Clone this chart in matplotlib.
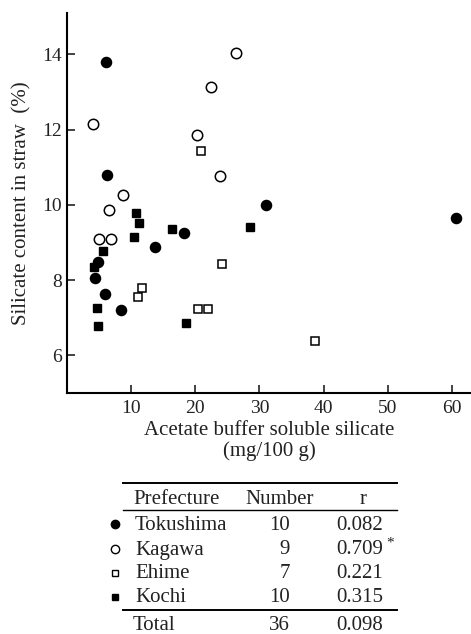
import matplotlib.pyplot as plt
from matplotlib.lines import Line2D

plt.rcParams['font.family'] = ['Liberation Serif', 'DejaVu Serif']

# data: x = acetate buffer soluble silicate, y = silicate in straw
toku_x = [6.1, 6.25, 18.3, 13.7, 4.8, 4.4, 6.0, 8.4, 31.0, 60.6]
toku_y = [13.8, 10.8, 9.25, 8.89, 8.49, 8.06, 7.62, 7.2, 10.0, 9.66]
kaga_x = [4.1, 6.6, 8.7, 5.05, 6.9, 20.2, 22.5, 23.9, 26.4]
kaga_y = [12.16, 9.87, 10.27, 9.09, 9.09, 11.87, 13.14, 10.76, 14.04]
ehime_x = [20.9, 24.1, 11.7, 11.0, 20.5, 22.0, 38.6]
ehime_y = [11.44, 8.44, 7.8, 7.55, 7.23, 7.23, 6.37]
kochi_x = [10.8, 11.2, 10.4, 16.3, 5.6, 4.2, 4.7, 4.8, 18.6, 28.6]
kochi_y = [9.78, 9.53, 9.15, 9.36, 8.78, 8.35, 7.27, 6.78, 6.87, 9.42]

prefectures = ['Tokushima', 'Kagawa', 'Ehime', 'Kochi']
numbers = ['10', '9', '7', '10']
r_values = ['0.082', '0.709', '0.221', '0.315']
r_star = ['', '*', '', '']
total_n = '36'
total_r = '0.098'

W, H = 471, 634
fig = plt.figure(figsize=(W / 100, H / 100), dpi=100)

def fx(px):
    return px / W

def fy(py):
    return 1 - py / H

ax = fig.add_axes([fx(67), fy(393), fx(471) - fx(67), fy(13) - fy(393)])

ax.plot(toku_x, toku_y, 'o', color='black', ms=7.3, ls='none')
ax.plot(kaga_x, kaga_y, 'o', mfc='white', mec='black', mew=1.1, ms=7.5, ls='none')
ax.plot(ehime_x, ehime_y, 's', mfc='white', mec='black', mew=1.1, ms=5.5, ls='none')
ax.plot(kochi_x, kochi_y, 's', color='black', ms=5.5, ls='none')

ax.set_xlim(0, 63)
ax.set_ylim(5, 15.1)
ax.set_xticks([10, 20, 30, 40, 50, 60])
ax.set_yticks([6, 8, 10, 12, 14])
ax.tick_params(direction='in', length=6, width=1.2, labelsize=14, colors='#222222')
ax.tick_params(axis='x', pad=5)
for s in ['top', 'right']:
    ax.spines[s].set_visible(False)
for s in ['left', 'bottom']:
    ax.spines[s].set_linewidth(1.5)

ax.set_ylabel('Silicate content in straw  (%)', fontsize=15, color='#222222', labelpad=8)
ax.set_xlabel('Acetate buffer soluble silicate\n(mg/100 g)', fontsize=15,
              color='#222222', labelpad=3, linespacing=1.05)

# table under the plot
def hline(py, x0, x1, lw):
    fig.add_artist(Line2D([fx(x0), fx(x1)], [fy(py), fy(py)], color='black',
                          lw=lw, transform=fig.transFigure))

tk = dict(fontsize=15, color='#222222', va='center')
hline(483, 123, 397, 1.4)
hline(510, 123, 397, 1.0)
hline(610, 123, 397, 1.4)

fig.text(fx(133), fy(499), 'Prefecture', ha='left', **tk)
fig.text(fx(280), fy(499), 'Number', ha='center', **tk)
fig.text(fx(363), fy(499), 'r', ha='center', **tk)

row_y = [525, 550, 574, 598]
marker_style = [dict(marker='o', color='black', ms=6),
                dict(marker='o', mfc='white', mec='black', mew=1, ms=6),
                dict(marker='s', mfc='white', mec='black', mew=1, ms=5),
                dict(marker='s', color='black', ms=5)]
for i, name in enumerate(prefectures):
    y = row_y[i]
    fig.add_artist(Line2D([fx(115)], [fy(y - 1)], ls='none', transform=fig.transFigure,
                          **marker_style[i]))
    fig.text(fx(135), fy(y), name, ha='left', **tk)
    fig.text(fx(290), fy(y), numbers[i], ha='right', **tk)
    fig.text(fx(383), fy(y), r_values[i], ha='right', **tk)
    if r_star[i]:
        fig.text(fx(386), fy(y - 7), r_star[i], ha='left', fontsize=11,
                 color='#222222', va='center')

fig.text(fx(133), fy(626), 'Total', ha='left', **tk)
fig.text(fx(290), fy(626), total_n, ha='right', **tk)
fig.text(fx(383), fy(626), total_r, ha='right', **tk)

fig.savefig('out.png', dpi=100)
